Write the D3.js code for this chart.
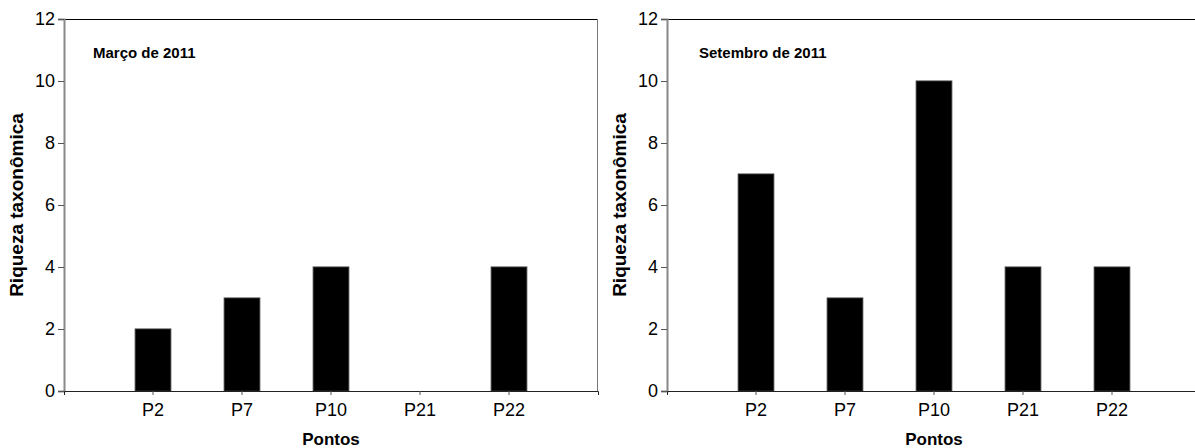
<!DOCTYPE html>
<html>
<head>
<meta charset="utf-8">
<script src="https://cdn.jsdelivr.net/npm/d3@7"></script>
<style>
  html, body { margin: 0; padding: 0; background: #fff; }
  svg { display: block; font-family: "Liberation Sans", Arial, sans-serif; }
</style>
</head>
<body>
<svg id="chart" width="1195" height="448"></svg>
<script>
const categories = ["P2", "P7", "P10", "P21", "P22"];
const marchValues = [2, 3, 4, 0, 4];
const septemberValues = [7, 3, 10, 4, 4];
const yTicks = [0, 2, 4, 6, 8, 10, 12];
const panelTitles = ["Março de 2011", "Setembro de 2011"];
const yTitle = "Riqueza taxonômica";
const xTitle = "Pontos";

const svg = d3.select("#chart");
const plotTop = 19, plotBottom = 391;

const panels = [
  { left: 64, right: 598, values: marchValues, title: panelTitles[0], titleX: 93, yTitleX: 23 },
  { left: 667, right: 1201, values: septemberValues, title: panelTitles[1], titleX: 699, yTitleX: 626 }
];

panels.forEach(p => {
  const g = svg.append("g");
  const x = d3.scaleBand().domain(categories).range([p.left, p.right])
    .paddingInner(0.6).paddingOuter(0.8);
  const y = d3.scaleLinear().domain([0, 12]).range([plotBottom, plotTop]);

  // frame top & right
  g.append("line").attr("x1", p.left).attr("x2", p.right).attr("y1", plotTop + 0.5).attr("y2", plotTop + 0.5)
    .attr("stroke", "#000").attr("stroke-width", 1);
  g.append("line").attr("x1", p.right - 0.5).attr("x2", p.right - 0.5).attr("y1", plotTop).attr("y2", plotBottom)
    .attr("stroke", "#777").attr("stroke-width", 1);

  // bars
  g.selectAll("rect.bar").data(p.values).enter().append("rect")
    .attr("class", "bar")
    .attr("x", (d, i) => x(categories[i]))
    .attr("width", x.bandwidth())
    .attr("y", d => y(d))
    .attr("height", d => plotBottom - y(d))
    .attr("fill", "#000")
    .attr("stroke", "#333")
    .attr("stroke-width", 1);

  // y axis
  const yAxis = d3.axisLeft(y).tickValues(yTicks).tickSize(6).tickPadding(3).tickFormat(d3.format("d"));
  const ya = g.append("g").attr("transform", `translate(${p.left},0)`).call(yAxis);
  ya.select(".domain").attr("stroke", "#888").attr("stroke-width", 2);
  ya.selectAll(".tick line").attr("stroke", "#555");
  ya.selectAll(".tick text").attr("font-size", 18).attr("fill", "#000")
    .attr("font-family", "Liberation Sans, Arial, sans-serif");

  // x axis
  const xAxis = d3.axisBottom(x).tickSize(4).tickPadding(8).tickSizeOuter(4);
  const xa = g.append("g").attr("transform", `translate(0,${plotBottom})`).call(xAxis);
  xa.select(".domain").attr("stroke", "#222").attr("stroke-width", 1);
  xa.selectAll(".tick line").attr("stroke", "#555");
  xa.selectAll(".tick text").attr("font-size", 18).attr("fill", "#000")
    .attr("font-family", "Liberation Sans, Arial, sans-serif");

  // panel title
  g.append("text").attr("x", p.titleX).attr("y", 58)
    .attr("font-size", 15).attr("font-weight", "bold").text(p.title);

  // x title
  g.append("text").attr("x", x("P10") + x.bandwidth() / 2).attr("y", 445)
    .attr("text-anchor", "middle").attr("font-size", 17).attr("font-weight", "bold").text(xTitle);

  // y title
  g.append("text")
    .attr("transform", `translate(${p.yTitleX},${(plotTop + plotBottom) / 2}) rotate(-90)`)
    .attr("text-anchor", "middle").attr("font-size", 19).attr("font-weight", "bold").text(yTitle);
});
</script>
</body>
</html>
